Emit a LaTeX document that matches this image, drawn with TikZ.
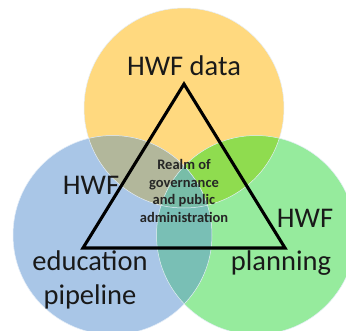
\documentclass[tikz,border=0pt]{standalone}
\usepackage{fontspec}
\setmainfont{Carlito}
\definecolor{topc}{HTML}{FFD97F}
\definecolor{leftc}{HTML}{A9C6E7}
\definecolor{rightc}{HTML}{96EB9D}
\definecolor{tlc}{HTML}{B2B79B}
\definecolor{trc}{HTML}{8FDC4F}
\definecolor{lrc}{HTML}{79BFB5}
\definecolor{midc}{HTML}{78BDA8}
\tikzset{
  big/.style={font=\fontsize{28.5}{33.5}\selectfont,text=black!90,inner sep=0pt,align=center},
  small/.style={font=\fontsize{14.5}{17.6}\selectfont\bfseries,text=black!85,inner sep=0pt,align=center},
  tri/.style={draw=black,line width=3.1pt,line join=miter},
  edge/.style={draw=white!70!leftc,line width=0.5pt}
}
\begin{document}
\begin{tikzpicture}[x=1pt,y=-1pt]
\useasboundingbox (0,0) rectangle (346,330);
\clip (0,0) rectangle (346,330);
\fill[white] (0,0) rectangle (346,330);
\def\tc{(184,108) circle[radius=100]}
\def\lc{(112.5,235) circle[radius=99.5]}
\def\rc{(256,235) circle[radius=99.5]}
\fill[topc] \tc;
\fill[leftc] \lc;
\fill[rightc] \rc;
\begin{scope}\clip \tc; \fill[tlc] \lc; \fill[trc] \rc; \end{scope}
\begin{scope}\clip \lc; \fill[lrc] \rc; \end{scope}
\begin{scope}\clip \tc; \clip \lc; \fill[midc] \rc; \end{scope}
\draw[edge] \tc; \draw[edge] \lc; \draw[edge] \rc;
\coordinate (apex) at (184,84);
\coordinate (bl) at (83,248);
\coordinate (br) at (285,248);
\draw[tri] (apex) -- (bl) -- (br) -- cycle;
\node[big] (data) at (184,66) {HWF data};
\node[big] (hl) at (91,185) {HWF};
\node[big] (hr) at (305,218) {HWF};
\node[big] (plan) at (281,263) {planning};
\node[big] (edu) at (90,280) {education\\pipeline};
\node[small] (realm) at (184,191) {Realm of\\governance\\and public\\administration};
\end{tikzpicture}
\end{document}
